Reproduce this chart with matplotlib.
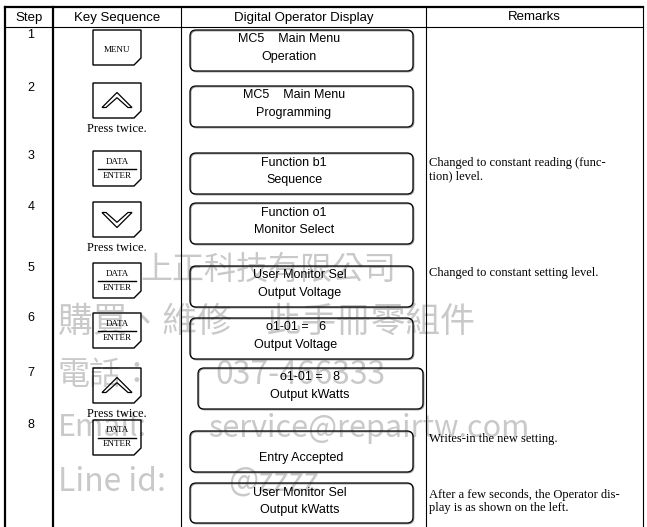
import matplotlib.pyplot as plt
from matplotlib.patches import Polygon, FancyBboxPatch

SANS = 'Liberation Sans'
SERIF = 'Liberation Serif'
CJK = ['Noto Sans CJK TC', 'DejaVu Sans']

# table content
headers = ['Step', 'Key Sequence', 'Digital Operator Display', 'Remarks']
steps = ['1', '2', '3', '4', '5', '6', '7', '8', '']
keys = ['MENU', 'UP', 'DATA/ENTER', 'DOWN', 'DATA/ENTER', 'DATA/ENTER', 'UP', 'DATA/ENTER', '']
press_twice = [False, True, False, True, False, False, True, False, False]
display_line1 = ['MC5    Main Menu', 'MC5    Main Menu', 'Function b1', 'Function o1',
                 'User Monitor Sel', 'o1-01 =   6', 'o1-01 =   8', '', 'User Monitor Sel']
display_line2 = ['Operation', 'Programming', 'Sequence', 'Monitor Select', 'Output Voltage',
                 'Output Voltage', 'Output kWatts', 'Entry Accepted', 'Output kWatts']
remarks = ['', '', 'Changed to constant reading (func-\ntion) level.', '',
           'Changed to constant setting level.', '', '', 'Writes-in the new setting.',
           'After a few seconds, the Operator dis-\nplay is as shown on the left.']
watermark = [('上正科技有限公司', ''), ('購買、維修　此手冊零組件', ''), ('電話：', '037-466333'),
             ('Email:', 'service@repairtw.com'), ('Line id:', '@zzzz')]

# layout (pixels, y downwards)
col_x = [5, 53, 181, 426, 643]
header_top, header_bot = 7, 27
key_top = [30, 83, 151, 202, 263, 313, 368, 420, None]
disp_top = [30, 86, 153, 203, 266, 318, 368, 431, 483]
disp_x = [190, 190, 190, 190, 190, 190, 198, 190, 190]
disp_w = [223, 223, 223, 223, 223, 223, 225, 223, 223]
text_cx = [289, 294, 294, 294, 300, 296, 310, 301, 300]
remark_y = [0, 0, 163, 0, 273, 0, 0, 439, 495]
wm_y = [270, 322, 375, 428, 482]
wm_x1 = [140, 58, 58, 58, 58]
wm_x2 = [0, 0, 215, 208, 228]
wm_size = [23, 25, 23, 22, 23]

fig = plt.figure(figsize=(6.47, 5.27), dpi=100)
ax = fig.add_axes([0, 0, 1, 1])
ax.set_xlim(0, 647)
ax.set_ylim(527, 0)
ax.axis('off')

# watermark behind everything
for (a, b), y, x1, x2, fs in zip(watermark, wm_y, wm_x1, wm_x2, wm_size):
    ax.text(x1, y, a, fontsize=fs, family=CJK, color='#c9c9c9', va='center', ha='left', zorder=0)
    if b:
        ax.text(x2, y, b, fontsize=fs, family=CJK, color='#c9c9c9', va='center', ha='left', zorder=0)

# grid lines
ax.plot([col_x[0], col_x[-1]], [header_top, header_top], color='k', lw=1.6)
ax.plot([col_x[0], col_x[-1]], [header_bot, header_bot], color='k', lw=0.8)
for i, x in enumerate(col_x):
    ax.plot([x, x], [header_top, 527], color='k', lw=1.6 if i < 2 else 0.8)

for i, h in enumerate(headers):
    ax.text((col_x[i] + col_x[i + 1]) / 2, 17.5, h, fontsize=9.5, family=SANS, ha='center', va='center')


def key_button(x0, y0, kind):
    w, h, c = 48, 35, 7
    x1, y1 = x0 + w, y0 + h
    ax.add_patch(Polygon([(x0, y0), (x1, y0), (x1, y1 - c), (x1 - c, y1), (x0, y1)],
                         closed=True, fill=False, ec='k', lw=1.0))
    cx, cy = x0 + w / 2, y0 + h / 2
    if kind == 'MENU':
        ax.text(cx, cy + 3, 'MENU', fontsize=6.5, family=SERIF, ha='center', va='center')
    elif kind == 'DATA/ENTER':
        ax.text(cx, cy - 7, 'DATA', fontsize=6.5, family=SERIF, ha='center', va='center')
        ax.plot([x0 + 5, x1 - 5], [cy, cy], color='k', lw=1.0)
        ax.text(cx, cy + 7, 'ENTER', fontsize=6.5, family=SERIF, ha='center', va='center')
    else:
        s = 1 if kind == 'UP' else -1
        hw, t = 15, 4
        base = cy + s * 7
        tip = cy - s * 8
        pts = [(cx - hw, base), (cx, tip), (cx + hw, base), (cx + hw - t, base),
               (cx, tip + s * t * 1.3), (cx - hw + t, base)]
        ax.add_patch(Polygon(pts, closed=True, fill=False, ec='k', lw=0.9))


for i in range(len(steps)):
    if steps[i]:
        ax.text(31, key_top[i] + 5, steps[i], fontsize=9, family=SANS, ha='center', va='center')
    if keys[i]:
        key_button(93, key_top[i], keys[i])
    if press_twice[i]:
        ax.text(117, key_top[i] + 46, 'Press twice.', fontsize=9, family=SERIF, ha='center', va='center')
    top = disp_top[i]
    h = 40 if i == len(steps) - 1 else 41
    # faint shadow on the lower right edge
    ax.add_patch(FancyBboxPatch((disp_x[i] + 0.8, top + 0.8), disp_w[i], h,
                                boxstyle='round,pad=0,rounding_size=6',
                                fill=False, ec='#888888', lw=0.8))
    ax.add_patch(FancyBboxPatch((disp_x[i], top), disp_w[i], h,
                                boxstyle='round,pad=0,rounding_size=6',
                                fill=False, ec='k', lw=0.9))
    if display_line1[i]:
        ax.text(text_cx[i], top + 9.5, display_line1[i], fontsize=9, family=SANS, ha='center', va='center')
    ax.text(text_cx[i], top + 27, display_line2[i], fontsize=9, family=SANS, ha='center', va='center')
    if remarks[i]:
        for j, line in enumerate(remarks[i].split('\n')):
            ax.text(429, remark_y[i] + j * 13, line, fontsize=9, family=SERIF, ha='left', va='center')

fig.savefig('out.png', dpi=100)
